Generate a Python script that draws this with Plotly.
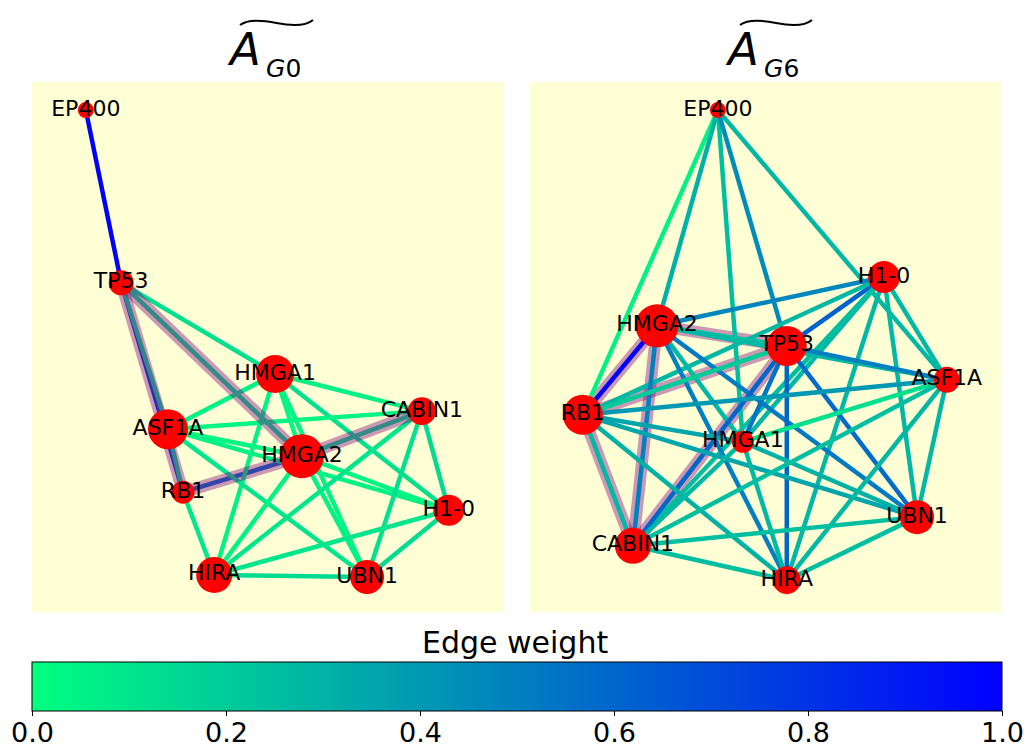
import plotly.graph_objects as go
from plotly.colors import sample_colorscale

# ---------------------------------------------------------------------------
# Data
# ---------------------------------------------------------------------------
genes = ["EP400", "TP53", "HMGA1", "CABIN1", "ASF1A",
         "HMGA2", "RB1", "H1-0", "HIRA", "UBN1"]

# spring-layout coordinates (unit box) for the two graphs
layout_g0 = {
    "EP400": (0.114, 0.947), "TP53": (0.189, 0.621), "HMGA1": (0.515, 0.449),
    "CABIN1": (0.826, 0.379), "ASF1A": (0.288, 0.345), "HMGA2": (0.572, 0.294),
    "RB1": (0.320, 0.226), "H1-0": (0.883, 0.192), "HIRA": (0.386, 0.070),
    "UBN1": (0.710, 0.066),
}
layout_g6 = {
    "EP400": (0.398, 0.947), "H1-0": (0.750, 0.632), "HMGA2": (0.269, 0.540),
    "TP53": (0.544, 0.502), "ASF1A": (0.883, 0.438), "RB1": (0.112, 0.372),
    "HMGA1": (0.451, 0.321), "UBN1": (0.820, 0.179), "CABIN1": (0.218, 0.125),
    "HIRA": (0.544, 0.060),
}

edges_g0 = [
    ("EP400", "TP53"), ("TP53", "RB1"), ("TP53", "ASF1A"), ("TP53", "HMGA2"),
    ("TP53", "HMGA1"), ("ASF1A", "RB1"), ("RB1", "HMGA2"), ("HMGA2", "CABIN1"),
    ("RB1", "HIRA"), ("HMGA1", "ASF1A"), ("HMGA1", "CABIN1"), ("HMGA1", "HMGA2"),
    ("HMGA1", "H1-0"), ("HMGA1", "HIRA"), ("HMGA1", "UBN1"), ("ASF1A", "CABIN1"),
    ("ASF1A", "HMGA2"), ("ASF1A", "H1-0"), ("ASF1A", "UBN1"), ("HMGA2", "H1-0"),
    ("HMGA2", "HIRA"), ("HMGA2", "UBN1"), ("CABIN1", "H1-0"), ("CABIN1", "UBN1"),
    ("CABIN1", "HIRA"), ("H1-0", "HIRA"), ("H1-0", "UBN1"), ("HIRA", "UBN1"),
]
weights_g0 = [
    1.00, 0.75, 0.12, 0.10,
    0.12, 0.12, 0.55, 0.10,
    0.10, 0.05, 0.05, 0.03,
    0.12, 0.05, 0.04, 0.04,
    0.03, 0.05, 0.10, 0.04,
    0.05, 0.05, 0.14, 0.12,
    0.10, 0.10, 0.14, 0.14,
]

edges_g6 = [
    ("EP400", "RB1"), ("EP400", "HMGA2"), ("EP400", "HMGA1"), ("EP400", "TP53"),
    ("EP400", "ASF1A"), ("H1-0", "HMGA2"), ("H1-0", "TP53"), ("H1-0", "RB1"),
    ("H1-0", "HMGA1"), ("H1-0", "ASF1A"), ("H1-0", "UBN1"), ("H1-0", "CABIN1"),
    ("H1-0", "HIRA"), ("HMGA2", "RB1"), ("HMGA2", "TP53"), ("HMGA2", "CABIN1"),
    ("HMGA2", "HMGA1"), ("HMGA2", "HIRA"), ("HMGA2", "UBN1"), ("HMGA2", "ASF1A"),
    ("TP53", "RB1"), ("TP53", "CABIN1"), ("TP53", "ASF1A"), ("TP53", "HMGA1"),
    ("TP53", "UBN1"), ("TP53", "HIRA"), ("RB1", "CABIN1"), ("RB1", "ASF1A"),
    ("RB1", "HMGA1"), ("RB1", "UBN1"), ("RB1", "HIRA"), ("HMGA1", "ASF1A"),
    ("HMGA1", "UBN1"), ("HMGA1", "CABIN1"), ("HMGA1", "HIRA"), ("ASF1A", "UBN1"),
    ("ASF1A", "CABIN1"), ("ASF1A", "HIRA"), ("UBN1", "CABIN1"), ("UBN1", "HIRA"),
    ("CABIN1", "HIRA"),
]
weights_g6 = [
    0.05, 0.30, 0.25, 0.45,
    0.28, 0.48, 0.62, 0.28,
    0.28, 0.28, 0.28, 0.25,
    0.28, 1.00, 0.25, 0.50,
    0.28, 0.50, 0.52, 0.28,
    0.20, 0.60, 0.50, 0.55,
    0.58, 0.60, 0.28, 0.40,
    0.35, 0.35, 0.30, 0.12,
    0.30, 0.28, 0.28, 0.28,
    0.25, 0.28, 0.25, 0.25,
    0.25,
]

# genes of the highlighted module
module = ["TP53", "RB1", "HMGA2", "CABIN1"]

# node diameters (px)
node_px_g0 = {"EP400": 16, "TP53": 25, "HMGA1": 38, "CABIN1": 28, "ASF1A": 40,
              "HMGA2": 44, "RB1": 23, "H1-0": 31, "HIRA": 36, "UBN1": 34}
node_px_g6 = {"EP400": 16, "H1-0": 32, "HMGA2": 43, "TP53": 40, "ASF1A": 26,
              "RB1": 40, "HMGA1": 22, "UBN1": 34, "CABIN1": 36, "HIRA": 28}

tick_vals = [0.0, 0.2, 0.4, 0.6, 0.8, 1.0]

# ---------------------------------------------------------------------------
# Styling
# ---------------------------------------------------------------------------
W, H = 1024, 747
FONT = "DejaVu Sans"
winter_r = [[0.0, "rgb(0,255,128)"], [1.0, "rgb(0,0,255)"]]
panel_bg = "rgb(255,255,214)"
EDGE_W = 4.5
BAND = dict(color="rgba(128,0,128,0.4)", width=12)
CB_LEFT, CB_RIGHT = 32, 1002   # colour bar extent (px)


def px_x(v):
    return v / W


def px_y(v):
    return 1 - v / H


fig = go.Figure()


def add_edges(pos, edges, colors, xa, ya):
    for (a, b), c in zip(edges, colors):
        fig.add_trace(go.Scatter(
            x=[pos[a][0], pos[b][0]], y=[pos[a][1], pos[b][1]],
            mode="lines", line=dict(color=c, width=EDGE_W),
            hoverinfo="skip", showlegend=False, xaxis=xa, yaxis=ya,
            cliponaxis=False))


def add_bands(pos, edges, xa, ya):
    for a, b in edges:
        if a in module and b in module:
            fig.add_trace(go.Scatter(
                x=[pos[a][0], pos[b][0]], y=[pos[a][1], pos[b][1]],
                mode="lines", line=BAND,
                hoverinfo="skip", showlegend=False, xaxis=xa, yaxis=ya,
                cliponaxis=False))


def add_graph(pos, edges, weights, sizes, xa, ya, band_on_top):
    colors = sample_colorscale(winter_r, weights)
    if band_on_top:
        add_edges(pos, edges, colors, xa, ya)
        add_bands(pos, edges, xa, ya)
    else:
        add_bands(pos, edges, xa, ya)
        add_edges(pos, edges, colors, xa, ya)
    names = list(pos.keys())
    fig.add_trace(go.Scatter(
        x=[pos[n][0] for n in names], y=[pos[n][1] for n in names],
        mode="markers", marker=dict(color="red", size=[sizes[n] for n in names],
                                    line=dict(width=0), opacity=1),
        hoverinfo="skip", showlegend=False, xaxis=xa, yaxis=ya,
        cliponaxis=False))
    fig.add_trace(go.Scatter(
        x=[pos[n][0] for n in names], y=[pos[n][1] for n in names],
        mode="text", text=names, textposition="middle center",
        textfont=dict(family=FONT, size=22, color="black"),
        hoverinfo="skip", showlegend=False, xaxis=xa, yaxis=ya,
        cliponaxis=False))


add_graph(layout_g0, edges_g0, weights_g0, node_px_g0, "x", "y", True)
add_graph(layout_g6, edges_g6, weights_g6, node_px_g6, "x2", "y2", False)

# colour scale of edge weights (tick labels placed as annotations below)
fig.add_trace(go.Scatter(
    x=[0.5], y=[-5], mode="markers",
    marker=dict(size=0, color=[0.5], colorscale=winter_r, cmin=0, cmax=1,
                showscale=True,
                colorbar=dict(
                    orientation="h", x=px_x((CB_LEFT + CB_RIGHT) / 2),
                    xanchor="center", y=px_y(717), yanchor="bottom",
                    xpad=0, ypad=0,
                    len=(CB_RIGHT - CB_LEFT) / W, lenmode="fraction",
                    thickness=49, thicknessmode="pixels",
                    outlinewidth=1, outlinecolor="black",
                    ticks="outside", ticklen=5, tickwidth=1, tickcolor="black",
                    tickvals=tick_vals, showticklabels=False,
                )),
    hoverinfo="skip", showlegend=False, xaxis="x", yaxis="y"))
for t in tick_vals:
    fig.add_annotation(text=f"{t:.1f}",
                       x=px_x(CB_LEFT + t * (CB_RIGHT - CB_LEFT)), y=px_y(732),
                       xref="paper", yref="paper", xanchor="center",
                       yanchor="middle", showarrow=False,
                       font=dict(family=FONT, size=27, color="black"))
fig.add_annotation(text="Edge weight", x=px_x(515), y=px_y(642.5),
                   xref="paper", yref="paper", xanchor="center",
                   yanchor="middle", showarrow=False,
                   font=dict(family=FONT, size=30, color="black"))

axis_common = dict(range=[0, 1], visible=False, showgrid=False, zeroline=False,
                   fixedrange=True)
fig.update_layout(
    width=W, height=H,
    margin=dict(l=0, r=0, t=0, b=0, autoexpand=False),
    paper_bgcolor="white", plot_bgcolor=panel_bg,
    xaxis=dict(domain=[px_x(32), px_x(504)], anchor="y", **axis_common),
    yaxis=dict(domain=[px_y(612), px_y(82)], anchor="x", **axis_common),
    xaxis2=dict(domain=[px_x(530), px_x(1002)], anchor="y2", **axis_common),
    yaxis2=dict(domain=[px_y(612), px_y(82)], anchor="x2", **axis_common),
    font=dict(family=FONT, color="black"),
)

# panel titles: tilde-accented A with graph subscript
titles = [(263, "0", 240, 313), (761, "6", 740, 812)]
for xa, sub, t0, t1 in titles:
    fig.add_annotation(text="<i>A</i>", x=px_x(xa), y=px_y(49.5),
                       xref="paper", yref="paper", xanchor="right",
                       yanchor="middle", showarrow=False,
                       font=dict(family=FONT, size=45, color="black"))
    fig.add_annotation(text=f"<i>G</i>{sub}", x=px_x(xa + 1), y=px_y(68.5),
                       xref="paper", yref="paper", xanchor="left",
                       yanchor="middle", showarrow=False,
                       font=dict(family=FONT, size=25, color="black"))
    span = t1 - t0
    pts = [(t0, 25), (t0 + 0.11 * span, 19), (t0 + 0.30 * span, 20),
           (t0 + 0.50 * span, 23), (t0 + 0.70 * span, 26),
           (t0 + 0.90 * span, 26), (t1, 20)]
    path = "M {},{} C {},{} {},{} {},{} C {},{} {},{} {},{}".format(
        *[v for p in pts for v in (px_x(p[0]), px_y(p[1]))])
    fig.add_shape(type="path", path=path, xref="paper", yref="paper",
                  line=dict(color="black", width=2))

fig.write_html("out.html")
